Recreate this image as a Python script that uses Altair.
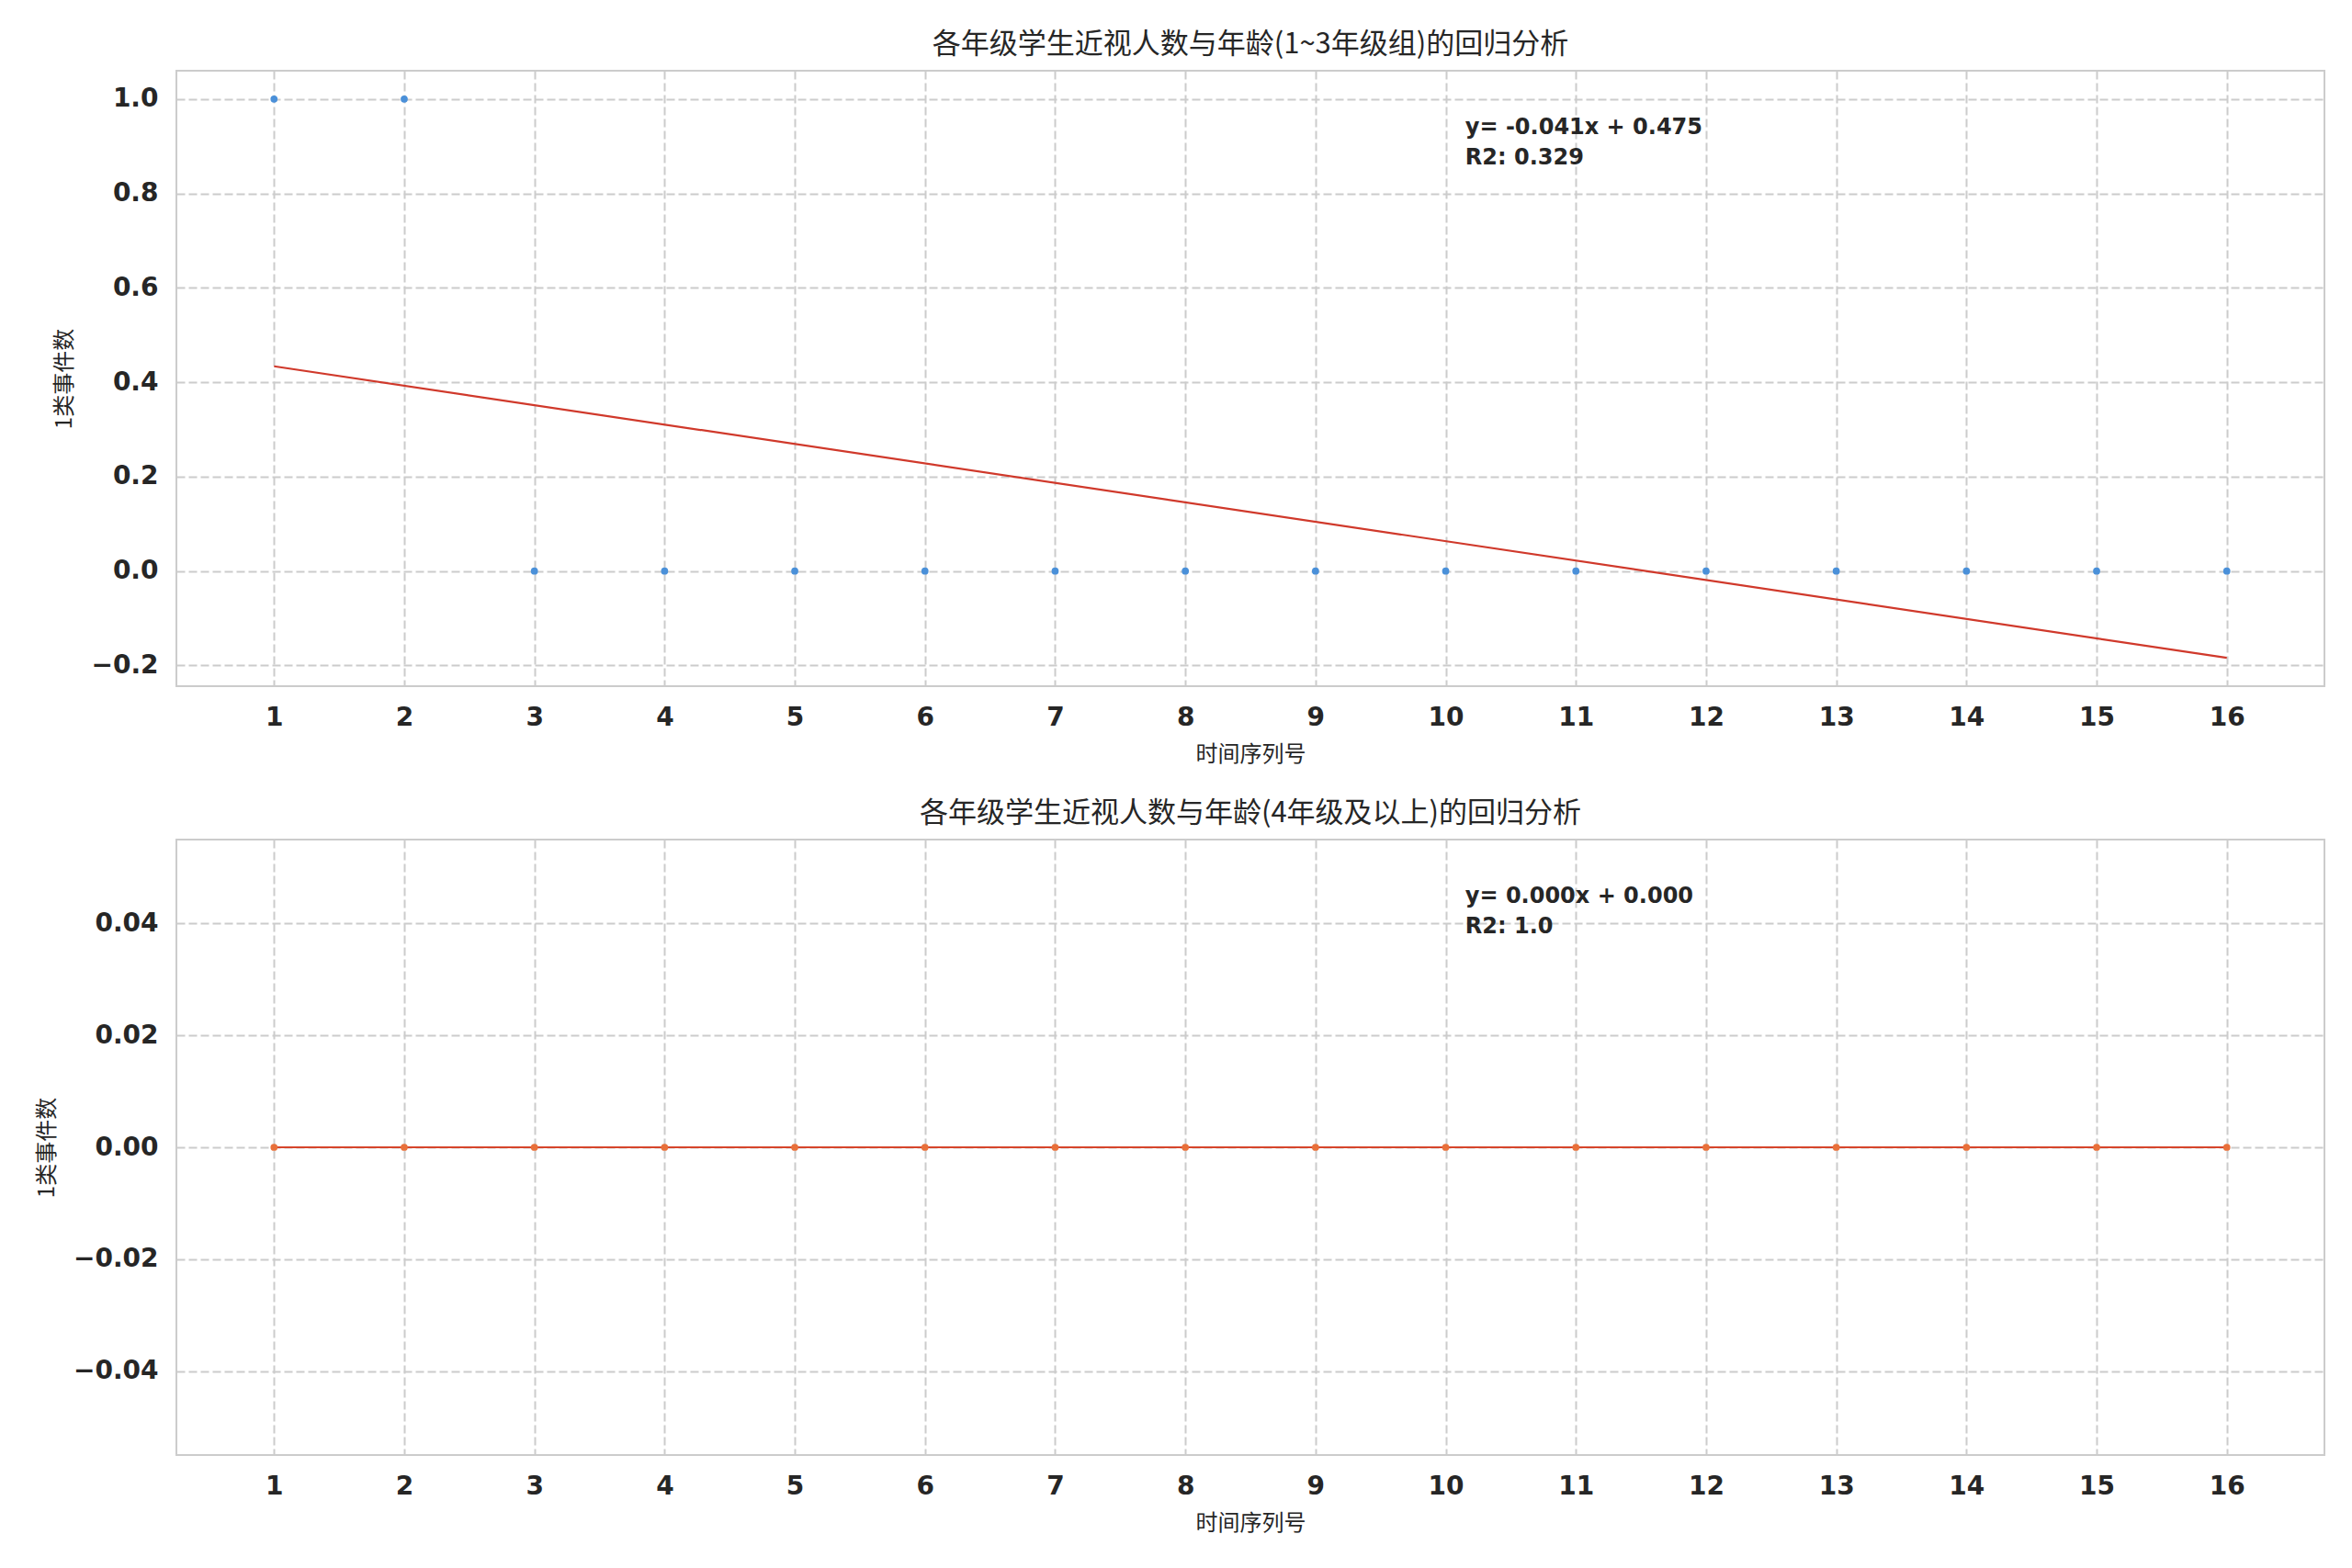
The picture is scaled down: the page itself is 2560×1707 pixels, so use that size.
import altair as alt
import pandas as pd

# ---- data ----
x_vals = [1, 2, 3, 4, 5, 6, 7, 8, 9, 10, 11, 12, 13, 14, 15, 16]
top_y = [1, 1, 0, 0, 0, 0, 0, 0, 0, 0, 0, 0, 0, 0, 0, 0]
bottom_y = [0, 0, 0, 0, 0, 0, 0, 0, 0, 0, 0, 0, 0, 0, 0, 0]

top_title = "各年级学生近视人数与年龄(1~3年级组)的回归分析"
bottom_title = "各年级学生近视人数与年龄(4年级及以上)的回归分析"
x_title = "时间序列号"
y_title = "1类事件数"
top_note = "y= -0.041x + 0.475\nR2: 0.329"
bottom_note = "y= 0.000x + 0.000\nR2: 1.0"

top_y_ticks = [-0.2, 0.0, 0.2, 0.4, 0.6, 0.8, 1.0]
bottom_y_ticks = [-0.04, -0.02, 0.0, 0.02, 0.04]

W, H = 2338, 670
TXT = "#262626"


def panel(yvals, title, ydomain, yticks, yfmt, point_color, line_color, note):
    df = pd.DataFrame({"x": x_vals, "y": yvals})
    xenc = alt.X("x:Q", title=x_title,
                 scale=alt.Scale(domain=[0.25, 16.75], nice=False, zero=False),
                 axis=alt.Axis(values=x_vals, format="d", labelPadding=20,
                               titlePadding=14))
    yenc = alt.Y("y:Q", title=y_title,
                 scale=alt.Scale(domain=ydomain, nice=False, zero=False),
                 axis=alt.Axis(values=yticks, format=yfmt, labelPadding=20,
                               titlePadding=16))
    base = alt.Chart(df)
    pts = base.mark_circle(size=60, opacity=1, color=point_color).encode(x=xenc, y=yenc)
    line = base.transform_regression("x", "y").mark_line(
        color=line_color, strokeWidth=2.2).encode(x=xenc, y=yenc)
    ndf = pd.DataFrame({"t": [note]})
    txt = alt.Chart(ndf).mark_text(
        align="left", baseline="top", font="DejaVu Sans", fontWeight="bold",
        fontSize=24, color=TXT, lineBreak="\n", lineHeight=33
    ).encode(
        text="t:N",
        x=alt.value(W * 0.6),
        y=alt.value(50),
    )
    return alt.layer(line, pts, txt).properties(
        width=W, height=H,
        title=alt.TitleParams(title, font="Noto Sans CJK SC", fontSize=31,
                              fontWeight="normal", color=TXT, offset=12),
    )


top = panel(top_y, top_title, [-0.244, 1.06], top_y_ticks, ".1f",
            "#4a90d9", "#d0392b", top_note)
bottom = panel(bottom_y, bottom_title, [-0.055, 0.055], bottom_y_ticks, ".2f",
               "#e8703a", "#d6452b", bottom_note)

chart = alt.vconcat(top, bottom, spacing=35).properties(
    padding={"top": 24, "left": 30, "right": 10, "bottom": 10},
    background="white",
).configure_view(
    stroke="#cccccc", strokeWidth=2
).configure_axis(
    labelFont="DejaVu Sans", labelFontWeight="bold", labelFontSize=28,
    labelColor=TXT, titleFont="Noto Sans CJK SC", titleFontSize=24,
    titleFontWeight="normal", titleColor=TXT, domain=False, ticks=False,
    grid=True, gridColor="#cccccc", gridDash=[9, 4], gridWidth=2,
)

chart.save("out.html", embed_options={"renderer": "svg", "actions": False})
